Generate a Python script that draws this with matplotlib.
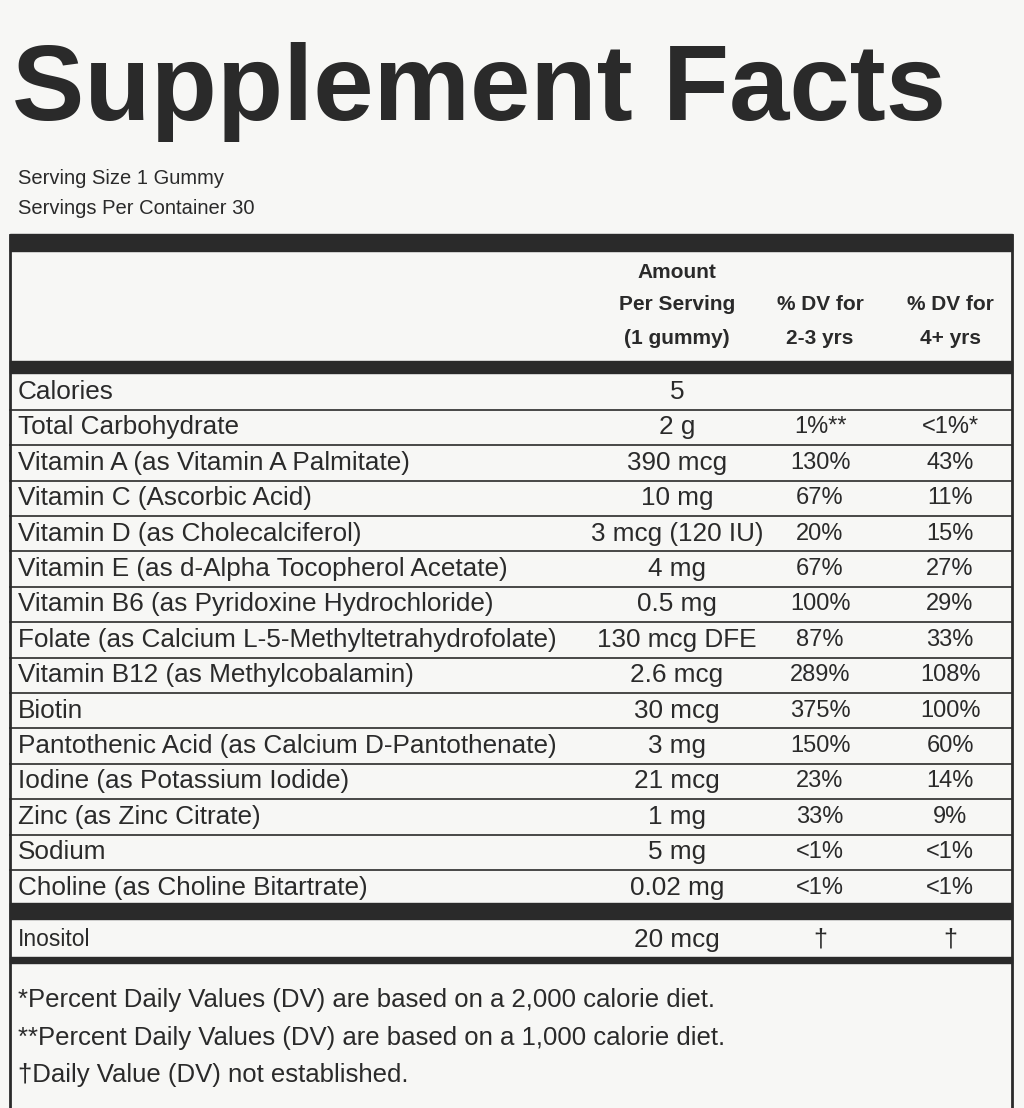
import matplotlib
matplotlib.use("Agg")
import matplotlib.pyplot as plt

title = "Supplement Facts"
serving = ["Serving Size 1 Gummy", "Servings Per Container 30"]
col_headers = [["Amount", "Per Serving", "(1 gummy)"], ["% DV for", "2-3 yrs"], ["% DV for", "4+ yrs"]]
nutrients = ["Calories", "Total Carbohydrate", "Vitamin A (as Vitamin A Palmitate)",
             "Vitamin C (Ascorbic Acid)", "Vitamin D (as Cholecalciferol)",
             "Vitamin E (as d-Alpha Tocopherol Acetate)", "Vitamin B6 (as Pyridoxine Hydrochloride)",
             "Folate (as Calcium L-5-Methyltetrahydrofolate)", "Vitamin B12 (as Methylcobalamin)",
             "Biotin", "Pantothenic Acid (as Calcium D-Pantothenate)", "Iodine (as Potassium Iodide)",
             "Zinc (as Zinc Citrate)", "Sodium", "Choline (as Choline Bitartrate)"]
amounts = ["5", "2 g", "390 mcg", "10 mg", "3 mcg (120 IU)", "4 mg", "0.5 mg", "130 mcg DFE",
           "2.6 mcg", "30 mcg", "3 mg", "21 mcg", "1 mg", "5 mg", "0.02 mg"]
dv_23 = ["", "1%**", "130%", "67%", "20%", "67%", "100%", "87%", "289%", "375%", "150%", "23%", "33%", "<1%", "<1%"]
dv_4 = ["", "<1%*", "43%", "11%", "15%", "27%", "29%", "33%", "108%", "100%", "60%", "14%", "9%", "<1%", "<1%"]
other = ["Inositol"]
other_amounts = ["20 mcg"]
other_dv23 = ["\u2020"]
other_dv4 = ["\u2020"]
footnotes = ["*Percent Daily Values (DV) are based on a 2,000 calorie diet.",
             "**Percent Daily Values (DV) are based on a 1,000 calorie diet.",
             "\u2020Daily Value (DV) not established."]

plt.rcParams['font.family'] = ['Liberation Sans', 'DejaVu Sans']
fig = plt.figure(figsize=(10.24, 11.08), dpi=100, facecolor="#f7f7f5")
ax = fig.add_axes([0, 0, 1, 1])
ax.set_xlim(0, 1024); ax.set_ylim(1108, 0); ax.axis("off")
tc = "#2a2a2a"

ax.text(12, 92, title, fontsize=78, fontweight="bold", color=tc, va="center", ha="left")
ax.text(18, 178, serving[0], fontsize=14.5, color=tc, va="center")
ax.text(18, 208, serving[1], fontsize=14.5, color=tc, va="center")

ax.plot([10, 10], [235, 1108], color=tc, lw=2)
ax.plot([1012, 1012], [235, 1108], color=tc, lw=2)
ax.fill_between([10, 1012], 234, 251, color=tc)

cx = [677, 820, 950]
for i, lines in enumerate(col_headers):
    n = len(lines)
    ys = [272, 305, 338] if n == 3 else [305, 338]
    for y, s in zip(ys, lines):
        ax.text(cx[i], y, s, fontsize=15, fontweight="bold", color=tc, ha="center", va="center")
ax.fill_between([10, 1012], 361, 373, color=tc)

y0, dy = 392, 35.4
for i, n in enumerate(nutrients):
    y = y0 + i * dy
    ax.text(18, y, n, fontsize=18.8, color=tc, va="center", ha="left")
    ax.text(cx[0], y, amounts[i], fontsize=18.8, color=tc, va="center", ha="center")
    ax.text(cx[1], y, dv_23[i], fontsize=17, color=tc, va="center", ha="center")
    ax.text(cx[2], y, dv_4[i], fontsize=17, color=tc, va="center", ha="center")
    if i < len(nutrients) - 1:
        ax.plot([10, 1012], [y + dy / 2] * 2, color=tc, lw=1.2)
ax.fill_between([10, 1012], 903, 919, color=tc)
for j, n in enumerate(other):
    y = 940
    ax.text(18, y, n, fontsize=16.5, color=tc, va="center")
    ax.text(cx[0], y, other_amounts[j], fontsize=18.8, color=tc, va="center", ha="center")
    ax.text(cx[1], y, other_dv23[j], fontsize=18, color=tc, va="center", ha="center")
    ax.text(cx[2], y, other_dv4[j], fontsize=18, color=tc, va="center", ha="center")
ax.fill_between([10, 1012], 957, 963, color=tc)
for k, f in enumerate(footnotes):
    ax.text(18, 1000 + k * 37.5, f, fontsize=18.5, color=tc, va="center")

fig.savefig("out.png", dpi=100, facecolor=fig.get_facecolor())
